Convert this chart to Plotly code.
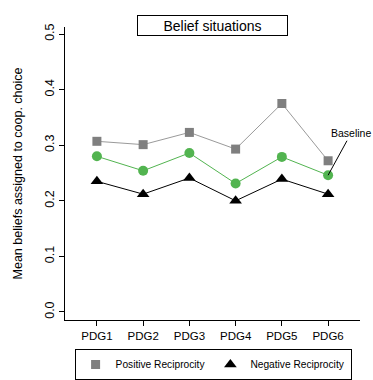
import plotly.graph_objects as go

# Mean beliefs per prisoner's dilemma game
games = ["PDG1", "PDG2", "PDG3", "PDG4", "PDG5", "PDG6"]
positive_reciprocity = [0.307, 0.301, 0.323, 0.293, 0.375, 0.272]
baseline = [0.280, 0.254, 0.286, 0.231, 0.279, 0.246]
negative_reciprocity = [0.235, 0.212, 0.241, 0.200, 0.239, 0.212]

y_ticks = [0.0, 0.1, 0.2, 0.3, 0.4, 0.5]
y_ticktext = ["0.0", "0.1", "0.2", "0.3", "0.4", "0.5"]

FONT = "Liberation Sans, Arial, Helvetica, sans-serif"
GRAY_MARK = "#7f7f7f"
GRAY_LINE = "#9a9a9a"
GREEN = "#52b450"

fig = go.Figure()

fig.add_trace(go.Scatter(
    x=games, y=positive_reciprocity, mode="lines+markers",
    line=dict(color=GRAY_LINE, width=1),
    marker=dict(symbol="square", size=9, color=GRAY_MARK),
    showlegend=False, cliponaxis=False,
))
fig.add_trace(go.Scatter(
    x=games, y=baseline, mode="lines+markers",
    line=dict(color=GREEN, width=1),
    marker=dict(symbol="circle", size=10, color=GREEN),
    showlegend=False, cliponaxis=False,
))
fig.add_trace(go.Scatter(
    x=games, y=negative_reciprocity, mode="lines+markers",
    line=dict(color="black", width=1),
    marker=dict(symbol="triangle-up", size=11, color="black"),
    showlegend=False, cliponaxis=False,
))

# legend entries (symbols only)
fig.add_trace(go.Scatter(
    x=[None], y=[None], mode="markers", name="Positive Reciprocity",
    marker=dict(symbol="square", size=9, color=GRAY_MARK),
))
fig.add_trace(go.Scatter(
    x=[None], y=[None], mode="markers", name="Negative Reciprocity",
    marker=dict(symbol="triangle-up", size=11, color="black"),
))

# boxed panel title
fig.add_annotation(
    xref="paper", yref="paper", x=0.5, y=1.041,
    text="Belief situations", showarrow=False,
    font=dict(family=FONT, size=14, color="black"),
    width=145, height=15, borderpad=2,
    bordercolor="black", borderwidth=1, bgcolor="white",
)

# label pointing at the baseline series
fig.add_annotation(
    x=games[-1], y=baseline[-1], text="Baseline",
    showarrow=True, arrowhead=0, arrowwidth=1, arrowcolor="black",
    ax=23, ay=-42, standoff=0,
    font=dict(family=FONT, size=10.5, color="black"),
)

fig.update_layout(
    width=373, height=380,
    margin=dict(l=65, r=13, t=27, b=60, autoexpand=False),
    paper_bgcolor="white", plot_bgcolor="white",
    font=dict(family=FONT, size=11.5, color="black"),
    legend=dict(
        orientation="h", x=0.502, y=-0.099, xanchor="center", yanchor="top",
        bordercolor="black", borderwidth=1,
        font=dict(family=FONT, size=10.2, color="black"),
        itemwidth=30, traceorder="normal",
    ),
)

fig.update_xaxes(
    range=[-0.69, 5.69], showgrid=False, zeroline=False,
    showline=True, linecolor="black", linewidth=1,
    ticks="outside", ticklen=5, tickcolor="black",
    tickfont=dict(family=FONT, size=11.5),
)
fig.update_yaxes(
    range=[-0.0144, 0.5126], showgrid=False, zeroline=False,
    showline=True, linecolor="black", linewidth=1,
    ticks="outside", ticklen=5, tickcolor="black",
    tickvals=y_ticks, ticktext=y_ticktext, tickangle=-90,
    tickfont=dict(family=FONT, size=12.5),
    title=dict(text="Mean beliefs assigned to coop. choice",
               font=dict(family=FONT, size=12.5), standoff=17),
)

fig.write_html("out.html")
